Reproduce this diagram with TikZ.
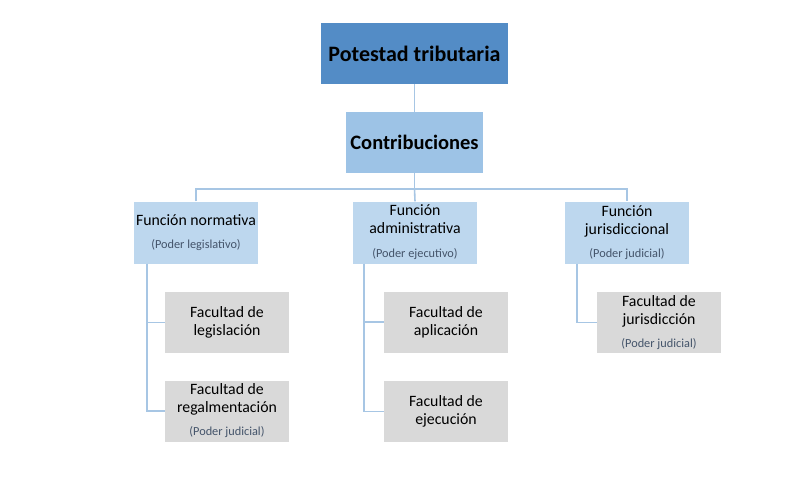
\documentclass[tikz,border=0pt]{standalone}
\usepackage{fontspec}
\setmainfont{Carlito}
\definecolor{topblue}{HTML}{538CC6}
\definecolor{midblue}{HTML}{9DC3E6}
\definecolor{lightblue}{HTML}{BDD7EE}
\definecolor{boxgray}{HTML}{D9D9D9}
\definecolor{linkblue}{HTML}{A7C6E4}
\definecolor{subtext}{HTML}{44546A}
\newcommand{\subt}[1]{{\fontsize{12.3}{14}\selectfont\color{subtext}#1}}
\begin{document}
\begin{tikzpicture}[x=1pt,y=-1pt,
  topbox/.style={fill=topblue,draw=none,inner sep=0pt,minimum width=187pt,minimum height=61pt,
    font=\fontsize{22}{26}\selectfont\bfseries},
  contribbox/.style={fill=midblue,draw=none,inner sep=0pt,minimum width=137pt,minimum height=61pt,
    font=\fontsize{20.5}{24}\selectfont\bfseries},
  funcbox/.style={fill=lightblue,draw=none,inner sep=0pt,minimum width=124pt,minimum height=62pt,
    align=center,font=\fontsize{15.8}{18}\selectfont},
  factbox/.style={fill=boxgray,draw=none,inner sep=0pt,minimum width=124pt,minimum height=61pt,
    align=center,font=\fontsize{15.8}{18}\selectfont},
  link/.style={draw=linkblue,line width=1.6pt}]
\useasboundingbox (0,0) rectangle (802,487);
\fill[white] (0,0) rectangle (802,487);

\node[topbox] (top) at (414.5,53.5) {Potestad tributaria};
\node[contribbox] (contrib) at (414.5,142.5) {Contribuciones};

\node[funcbox] (fn1) at (196,232.5) {Función normativa\\[5pt]\subt{(Poder legislativo)}};
\node[funcbox] (fn2) at (415,232.5) {Función\\administrativa\\[6pt]\subt{(Poder ejecutivo)}};
\node[funcbox] (fn3) at (627,232.5) {Función\\jurisdiccional\\[5pt]\subt{(Poder judicial)}};

\node[factbox] (g1) at (227,322.5) {Facultad de\\legislación};
\node[factbox] (g2) at (227,411) {Facultad de\\regalmentación\\[5pt]\subt{(Poder judicial)}};
\node[factbox] (m1) at (446,322) {Facultad de\\aplicación};
\node[factbox] (m2) at (446,411.5) {Facultad de\\ejecución};
\node[factbox] (r1) at (659,322.5) {Facultad de\\jurisdicción\\[5pt]\subt{(Poder judicial)}};

\coordinate (bar) at (414.5,189);
\coordinate (t1) at ([xshift=-49pt]fn1.south);
\coordinate (t2) at ([xshift=-51pt]fn2.south);
\coordinate (t3) at ([xshift=-50pt]fn3.south);

\draw[link] (top.south) -- (contrib.north);
\draw[link] (contrib.south) -- (bar);
\draw[link] (fn1.north) |- (bar) -| (fn3.north);
\draw[link] (bar) -- (fn2.north);
\draw[link] (t1) |- (g1.west);
\draw[link] (t1) |- (g2.west);
\draw[link] (t2) |- (m1.west);
\draw[link] (t2) |- (m2.west);
\draw[link] (t3) |- (r1.west);
\end{tikzpicture}
\end{document}
